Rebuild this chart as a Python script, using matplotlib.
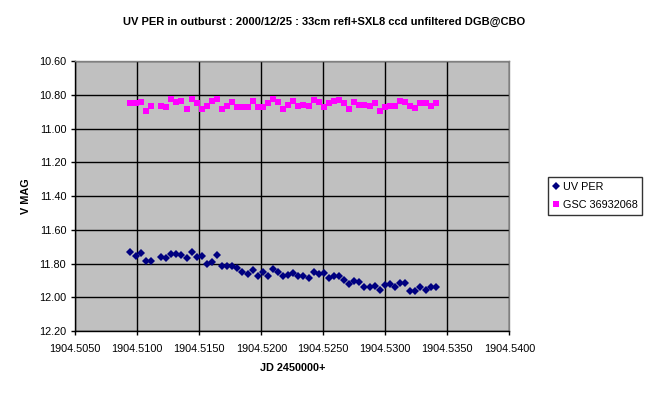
import matplotlib
matplotlib.use('Agg')
import matplotlib.pyplot as plt

# JD - 2450000 (shared by both stars)
jd = [
    1904.50941, 1904.50990, 1904.51030, 1904.51070, 1904.51110, 1904.51191,
    1904.51231, 1904.51272, 1904.51312, 1904.51352, 1904.51401, 1904.51441,
    1904.51481, 1904.51522, 1904.51562, 1904.51602, 1904.51643, 1904.51683,
    1904.51723, 1904.51764, 1904.51804, 1904.51844, 1904.51893, 1904.51933,
    1904.51973, 1904.52014, 1904.52054, 1904.52094, 1904.52135, 1904.52175,
    1904.52215, 1904.52256, 1904.52296, 1904.52336, 1904.52385, 1904.52425,
    1904.52465, 1904.52508, 1904.52548, 1904.52589, 1904.52629, 1904.52669,
    1904.52710, 1904.52750, 1904.52790, 1904.52831, 1904.52879, 1904.52919,
    1904.52960, 1904.53000, 1904.53040, 1904.53081, 1904.53121, 1904.53161,
    1904.53202, 1904.53242, 1904.53282, 1904.53331, 1904.53371, 1904.53411,
]

uv_per = [
    11.729, 11.753, 11.735, 11.782, 11.782, 11.759, 11.765, 11.741, 11.741, 11.747,
    11.765, 11.729, 11.759, 11.753, 11.800, 11.788, 11.747, 11.812, 11.814, 11.816,
    11.827, 11.847, 11.859, 11.841, 11.871, 11.847, 11.876, 11.835, 11.847, 11.876,
    11.865, 11.853, 11.876, 11.876, 11.888, 11.847, 11.859, 11.857, 11.888, 11.876,
    11.876, 11.900, 11.924, 11.906, 11.912, 11.941, 11.941, 11.935, 11.959, 11.929,
    11.924, 11.941, 11.918, 11.918, 11.965, 11.965, 11.941, 11.959, 11.941, 11.941,
]

gsc = [
    10.849, 10.849, 10.843, 10.897, 10.867, 10.863, 10.873, 10.826, 10.841, 10.838,
    10.881, 10.826, 10.849, 10.881, 10.863, 10.838, 10.822, 10.881, 10.863, 10.843,
    10.873, 10.869, 10.873, 10.834, 10.873, 10.873, 10.849, 10.826, 10.843, 10.885,
    10.857, 10.838, 10.867, 10.861, 10.867, 10.832, 10.843, 10.873, 10.849, 10.838,
    10.832, 10.849, 10.885, 10.841, 10.861, 10.861, 10.867, 10.849, 10.897, 10.873,
    10.867, 10.867, 10.838, 10.843, 10.867, 10.879, 10.849, 10.849, 10.867, 10.849,
]

x_ticks = [1904.505, 1904.510, 1904.515, 1904.520, 1904.525, 1904.530, 1904.535, 1904.540]
y_ticks = [10.6, 10.8, 11.0, 11.2, 11.4, 11.6, 11.8, 12.0, 12.2]

plt.rcParams['font.family'] = ['Liberation Sans', 'DejaVu Sans']
plt.rcParams['font.size'] = 7.8

fig = plt.figure(figsize=(6.48, 3.97), dpi=100)
ax = fig.add_axes([0.1162, 0.1662, 0.6698, 0.6794])
ax.set_facecolor('#C0C0C0')

ax.plot(jd, uv_per, linestyle='none', marker='D', markersize=3.9,
        color='#000080', markeredgewidth=0, label='UV PER')
ax.plot(jd, gsc, linestyle='none', marker='s', markersize=3.7,
        color='#FF00FF', markeredgewidth=0, label='GSC 36932068')

ax.set_xlim(1904.505, 1904.540)
ax.set_ylim(12.2, 10.6)
ax.set_xticks(x_ticks)
ax.set_xticklabels(['%.4f' % v for v in x_ticks])
ax.set_yticks(y_ticks)
ax.set_yticklabels(['%.2f' % v for v in y_ticks])
ax.grid(True, color='black', linewidth=1)
ax.set_axisbelow(True)
ax.tick_params(direction='out', length=3, width=1, color='black', pad=3.5)
ax.tick_params(axis='x', pad=6)

for side in ['left', 'bottom']:
    ax.spines[side].set_color('black')
    ax.spines[side].set_linewidth(1)
for side in ['top', 'right']:
    ax.spines[side].set_color('#808080')
    ax.spines[side].set_linewidth(1)

ax.set_xlabel('JD 2450000+', fontweight='bold', labelpad=7)
ax.set_ylabel('V MAG', fontweight='bold', labelpad=6)
fig.text(0.5, 0.945, 'UV PER in outburst : 2000/12/25 : 33cm refl+SXL8 ccd unfiltered DGB@CBO',
         ha='center', va='center', fontweight='bold', fontsize=8)

leg = ax.legend(loc='center left', bbox_to_anchor=(1.089, 0.5), frameon=True,
                fancybox=False, edgecolor='black', handlelength=0.5,
                handletextpad=0.4, borderpad=0.45, labelspacing=0.75,
                borderaxespad=0)
leg.get_frame().set_linewidth(1)

fig.savefig('out.png', dpi=100)
